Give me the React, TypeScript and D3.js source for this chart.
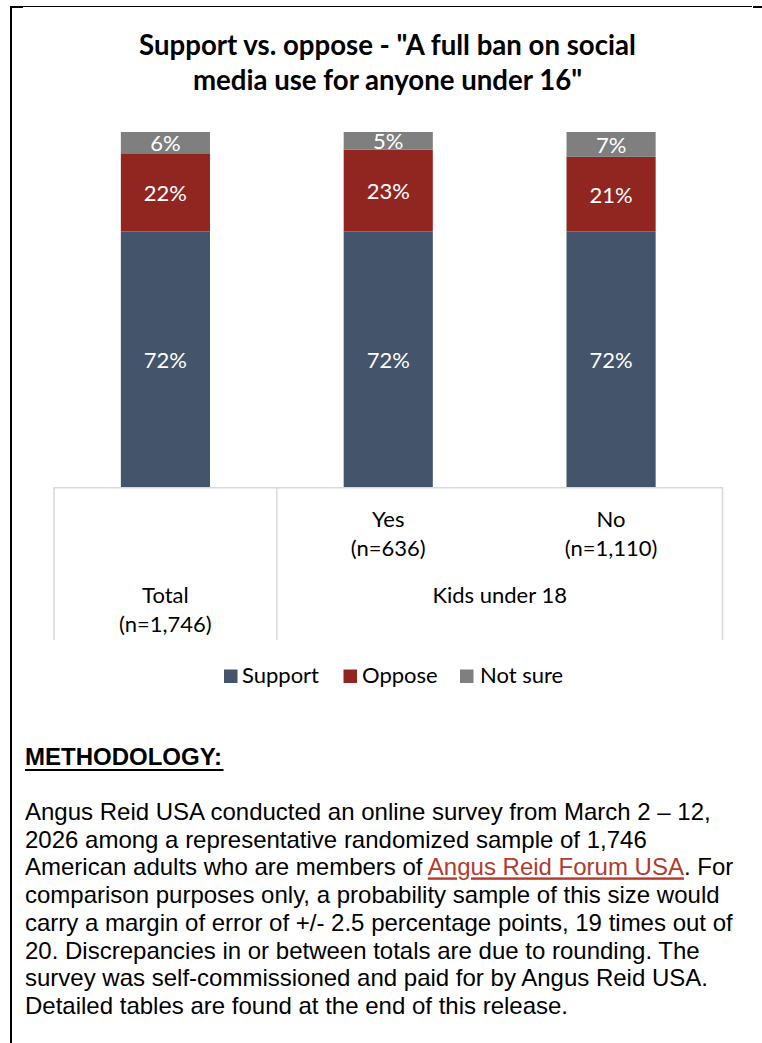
import React from "react";
import * as d3 from "d3";

const categories = ["Total", "Yes", "No"];
const categorySubLabels = ["(n=1,746)", "(n=636)", "(n=1,110)"];
const groupLabels = ["", "Kids under 18"];
const seriesNames = ["Support", "Oppose", "Not sure"];
const supportValues = [72, 72, 72];
const opposeValues = [22, 23, 21];
const notSureValues = [6, 5, 7];
const seriesColors = ["#44546a", "#912620", "#7f7f7f"];

const titleLines = ['Support vs. oppose - "A full ban on social', 'media use for anyone under 16"'];
const methodHeading = "METHODOLOGY:";
const methodLines: { pre: string; link?: string; post?: string }[] = [
  { pre: "Angus Reid USA conducted an online survey from March 2 \u2013 12," },
  { pre: "2026 among a representative randomized sample of 1,746" },
  { pre: "American adults who are members of ", link: "Angus Reid Forum USA", post: ". For" },
  { pre: "comparison purposes only, a probability sample of this size would" },
  { pre: "carry a margin of error of +/- 2.5 percentage points, 19 times out of" },
  { pre: "20. Discrepancies in or between totals are due to rounding. The" },
  { pre: "survey was self-commissioned and paid for by Angus Reid USA." },
  { pre: "Detailed tables are found at the end of this release." },
];

const W = 762;
const H = 1043;
const LABEL_FONT = "Lato, Calibri, 'Open Sans', sans-serif";
const BODY_FONT = "'Liberation Sans', Arial, sans-serif";

export default function App() {
  const plotLeft = 54;
  const plotRight = 722.5;
  const baseY = 487;
  const topY = 132;

  const x = d3.scaleBand<string>().domain(categories).range([plotLeft, plotRight]).paddingInner(0.6).paddingOuter(0.3);
  const y = d3.scaleLinear().domain([0, 100]).range([baseY, topY]);

  const rows = categories.map((c, i) => ({
    cat: c,
    Support: supportValues[i],
    Oppose: opposeValues[i],
    "Not sure": notSureValues[i],
  }));
  const stacked = d3.stack<any>().keys(seriesNames)(rows);

  const centers = categories.map((c) => (x(c) as number) + x.bandwidth() / 2);
  const groupSplit = (centers[0] + centers[1]) / 2;
  const axisBottom = 640;

  const legendItems = [
    { name: seriesNames[0], sx: 224, tx: 242 },
    { name: seriesNames[1], sx: 343.5, tx: 362 },
    { name: seriesNames[2], sx: 460, tx: 480 },
  ];

  const methodBase = 820;
  const methodStep = 27.7;

  return (
    <svg
      width={W}
      height={H}
      style={{ position: "absolute", left: 0, top: 0, background: "#fff" }}
      xmlns="http://www.w3.org/2000/svg"
    >
      <rect x={0} y={0} width={W} height={H} fill="#fff" />
      {/* border */}
      <line x1={10} y1={6.5} x2={752} y2={6.5} stroke="#000" strokeWidth={1} />
      <line x1={10} y1={7} x2={23} y2={7} stroke="#000" strokeWidth={2} />
      <line x1={753} y1={7} x2={762} y2={7} stroke="#000" strokeWidth={2} />
      <line x1={11} y1={6} x2={11} y2={H} stroke="#000" strokeWidth={2} />

      {/* title */}
      <g fontFamily={LABEL_FONT} fontWeight={700} fontSize={27.6} fill="#000" textAnchor="middle">
        {titleLines.map((t, i) => (
          <text key={i} x={387.5} y={55 + i * 34.5}>
            {t}
          </text>
        ))}
      </g>

      {/* bars */}
      {stacked.map((s, si) => (
        <g key={s.key} fill={seriesColors[si]}>
          {s.map((d, i) => (
            <rect
              key={i}
              x={x(categories[i])}
              y={y(d[1])}
              width={x.bandwidth()}
              height={y(d[0]) - y(d[1])}
            />
          ))}
        </g>
      ))}
      {/* data labels */}
      <g fontFamily={LABEL_FONT} fontSize={22} fill="#fff" textAnchor="middle">
        {stacked.map((s) =>
          s.map((d, i) => (
            <text key={s.key + i} x={centers[i]} y={(y(d[0]) + y(d[1])) / 2 + 8.5}>
              {`${d[1] - d[0]}%`}
            </text>
          ))
        )}
      </g>

      {/* category axis */}
      <g stroke="#d9d9d9" strokeWidth={1.5}>
        <line x1={plotLeft} y1={baseY + 0.75} x2={plotRight} y2={baseY + 0.75} />
        <line x1={plotLeft} y1={baseY} x2={plotLeft} y2={axisBottom} />
        <line x1={groupSplit} y1={baseY} x2={groupSplit} y2={axisBottom} />
        <line x1={plotRight} y1={baseY} x2={plotRight} y2={axisBottom} />
      </g>
      <g fontFamily={LABEL_FONT} fontSize={22} fill="#000" textAnchor="middle">
        {categories.map((c, i) => {
          const by = i === 0 ? 602.7 : 526.7;
          return (
            <g key={c}>
              <text x={centers[i]} y={by}>{c}</text>
              <text x={centers[i]} y={by + 29.3}>{categorySubLabels[i]}</text>
            </g>
          );
        })}
        <text x={(groupSplit + plotRight) / 2} y={602.7}>{groupLabels[1]}</text>
      </g>

      {/* legend */}
      <g fontFamily={LABEL_FONT} fontSize={22} fill="#000">
        {legendItems.map((it, i) => (
          <g key={it.name}>
            <rect x={it.sx} y={669.5} width={13.5} height={13.5} fill={seriesColors[i]} />
            <text x={it.tx} y={683}>{it.name}</text>
          </g>
        ))}
      </g>

      {/* methodology */}
      <g fontFamily={BODY_FONT} fontSize={24} fill="#000">
        <text x={25} y={765} fontWeight={700}>{methodHeading}</text>
        <line x1={25} y1={770} x2={223.5} y2={770} stroke="#000" strokeWidth={1.8} />
        {methodLines.map((l, i) => (
          <text key={i} x={25} y={methodBase + i * methodStep} xmlSpace="preserve">
            <tspan>{l.pre}</tspan>
            {l.link ? (
              <tspan fill="#b33a2e" textDecoration="underline">{l.link}</tspan>
            ) : null}
            {l.post ? <tspan>{l.post}</tspan> : null}
          </text>
        ))}
      </g>
    </svg>
  );
}
